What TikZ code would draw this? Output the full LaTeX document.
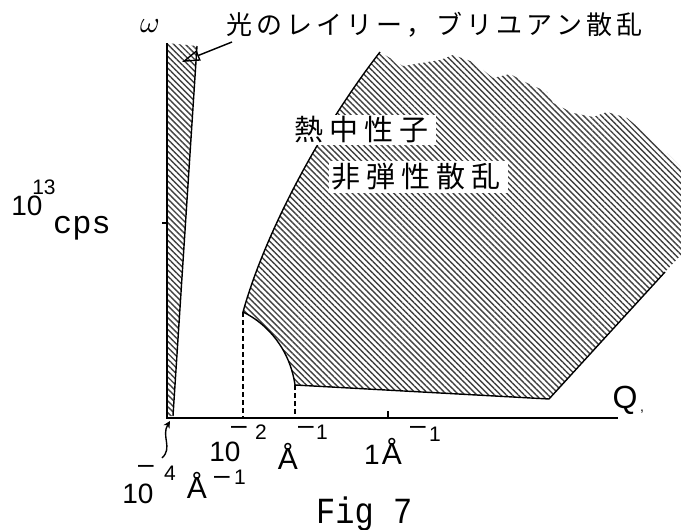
\documentclass[tikz,border=0pt]{standalone}
\usepackage{fontspec}
\usetikzlibrary{patterns.meta,arrows.meta}
\newfontfamily\jp{Noto Sans CJK JP}
\newfontfamily\lsans{Liberation Sans}
\newfontfamily\lmono{Liberation Mono}
\makeatletter
\newcommand\pitched[2]{\@tfor\pch:=#2\do{\makebox[#1][l]{\pch}}}
\makeatother
\begin{document}
\begin{tikzpicture}[x=1pt,y=-1pt,
  hatch/.style={pattern={Lines[angle=-45,distance=4.2pt,line width=1.4pt]}, pattern color=black!75},
  outline/.style={line width=1.4pt},
  axisline/.style={line width=1.7pt},
  dashline/.style={line width=1.4pt, dash pattern=on 5pt off 3pt},
  num/.style={inner sep=0pt, font=\lsans\fontsize{28}{28}\selectfont},
  supnum/.style={inner sep=0pt, font=\lsans\fontsize{21}{21}\selectfont},
  angs/.style={inner sep=0pt, font=\lsans\fontsize{30}{30}\selectfont},
  jplab/.style={inner sep=0pt, anchor=west, font=\jp\fontsize{26}{26}\selectfont},
  jpbig/.style={inner sep=2pt, anchor=west, fill=white, font=\jp\fontsize{29}{29}\selectfont},
  monolab/.style={inner sep=0pt, anchor=base west, font=\lmono\fontsize{32}{32}\selectfont}]
\useasboundingbox (0,0) rectangle (681,530);
\coordinate (A) at (380,52);
\coordinate (B) at (243,312);
\coordinate (C) at (295,385);
\coordinate (D) at (549,399);
\coordinate (E) at (665,272);
\coordinate (O) at (167,418);
\coordinate (Ytop) at (167,43);
\coordinate (Xend) at (618,418);
\coordinate (S1) at (197,46);
\coordinate (S2) at (173,416);
\coordinate (S3) at (167,416);
% hatched regions
\path[hatch] (B) .. controls (264,236) and (318,132) .. (A)
  -- (403,66) -- (440,60) -- (453,55) -- (473,62) -- (493,78) -- (510,74)
  -- (527,83) -- (547,92) -- (553,103) -- (573,113) -- (593,117) -- (607,112)
  -- (627,118) -- (650,137) -- (667,153) -- (681,167) -- (681,255) -- (E) -- (D)
  -- (C) .. controls (290,350) and (268,324) .. (B) -- cycle;
\path[hatch] (Ytop) -- (S1) -- (S2) -- (S3) -- cycle;
% outlines
\draw[outline] (E) -- (D) -- (C) .. controls (290,350) and (268,324) .. (B)
  .. controls (264,236) and (318,132) .. (A);
\draw[outline] (S1) -- (S2);
\draw[axisline] (Ytop) -- (O) -- (Xend);
\draw[dashline] (B) -- (B |- O);
\draw[dashline] (C) -- (C |- O);
\draw[axisline] (162,223) -- (167,223);
\draw[outline] (388,418) -- (388,411);
% arrows
\coordinate (arrTail) at (232,42);
\coordinate (arrHead) at (182,62);
\draw[outline, -{Triangle[open, length=18pt, width=11pt]}] (arrTail) -- (arrHead);
\coordinate (Q1) at (162,458);
\coordinate (Q2) at (170,421);
\draw[outline, -{Stealth[length=7pt,width=7pt]}] (Q1) .. controls (173,448) and (161,436) .. (Q2);
% labels
\node[inner sep=0pt] (omega) at (150,26) {\scalebox{3}{$\omega$}};
\node[jplab] (title) at (226,25) {\pitched{30pt}{光のレイリー，ブリユアン散乱}};
\node[jpbig] (neutron) at (292,130) {\pitched{35pt}{熱中性子}};
\node[jpbig] (inel) at (329,177) {\pitched{35pt}{非弾性散乱}};
\node[num] (ten13) at (27,206) {10};
\node[supnum] (e13) at (44,187) {13};
\node[monolab] (cps) at (53,233) {cps};
% x-axis labels
\node[num] (tenA) at (225,452) {10};
\node[num] (mA) at (239,430) {–};
\node[supnum] (twoA) at (261,432) {2};
\node[angs] (angA) at (288,456) {Å};
\node[num] (mB) at (306,430) {–};
\node[supnum] (oneB) at (322,432) {1};
\node[num] (oneC) at (372,455) {1};
\node[angs] (angC) at (392,451) {Å};
\node[num] (mC) at (418,430) {–};
\node[supnum] (oneC2) at (435,434) {1};
\node[num] (tenD) at (138,494) {10};
\node[num] (mD) at (146,469) {–};
\node[supnum] (fourD) at (170,473) {4};
\node[angs] (angD) at (197,485) {Å};
\node[num] (mD2) at (222,480) {–};
\node[supnum] (oneD) at (240,477) {1};
\node[inner sep=0pt, font=\lsans\fontsize{32}{32}\selectfont] (Qlab) at (625,400) {Q};
\node[inner sep=0pt, font=\lsans\fontsize{14}{14}\selectfont] (Qc) at (642,412) {,};
\node[monolab] (fig) at (316,523) {\scalebox{1}[1.15]{Fig 7}};
\end{tikzpicture}
\end{document}
